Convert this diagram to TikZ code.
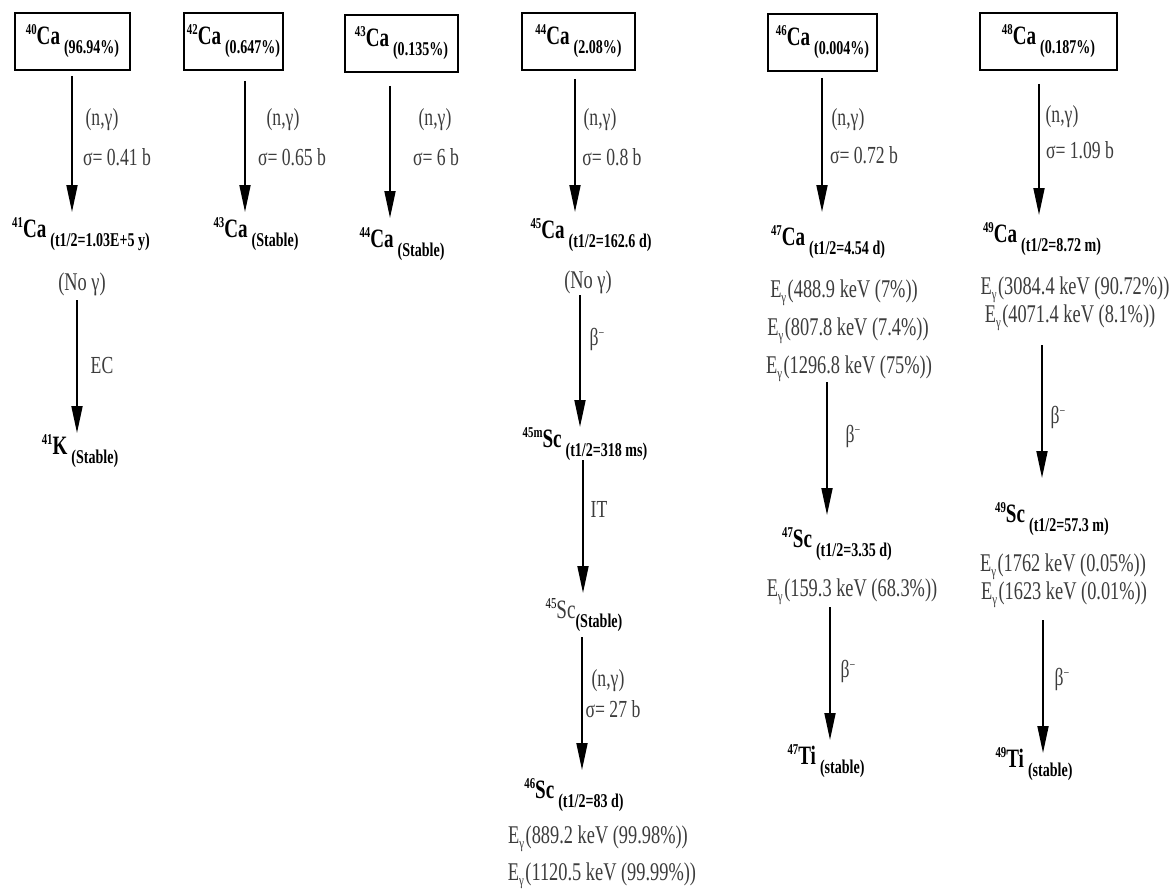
\documentclass[tikz,border=0pt]{standalone}
\usepackage{fontspec}
\setmainfont[FakeStretch=0.72]{Liberation Serif}
\usetikzlibrary{arrows.meta,calc}
\definecolor{tg}{HTML}{3C3C3C}
\newcommand{\nuc}[3]{\raisebox{10pt}{\fontsize{15}{15}\selectfont\bfseries #1}{\fontsize{26.5}{26.5}\selectfont\bfseries #2}\hspace{4pt}\raisebox{-9pt}{\fontsize{19.5}{19.5}\selectfont\bfseries #3}}
\newcommand{\egam}[1]{E\raisebox{-5pt}{\fontsize{15}{15}\selectfont γ}\hspace{1.5pt}(#1)}
\newcommand{\bminus}{β\raisebox{8pt}{\fontsize{14}{14}\selectfont −}}
\tikzset{
  lbl/.style={anchor=base, inner sep=0pt, text=tg, font=\fontsize{24.5}{24.5}\selectfont},
  egl/.style={anchor=base, inner sep=0pt, text=tg, font=\fontsize{25.5}{25.5}\selectfont},
  iso/.style={anchor=base, inner sep=0pt, text=black},
  isobox/.style={draw, line width=1.8pt, minimum height=57pt, inner sep=0pt, anchor=center, fill=white},
  arr/.style={line width=1.8pt, -{Triangle[length=27pt,width=11pt]}}
}
\begin{document}
\begin{tikzpicture}[x=1pt,y=-1pt]
\useasboundingbox[fill=white] (0,0) rectangle (1176,889);
% column 1
\node[isobox, minimum width=115pt] (b40) at (72.5,41.5) {\nuc{40}{Ca}{(96.94\%)}};
\node[lbl] (ng1) at (102,125) {(n,γ)};
\node[lbl] (s1) at (117,165) {σ= 0.41 b};
\node[iso] (ca41) at (81,237) {\nuc{41}{Ca}{(t1/2=1.03E+5 y)}};
\node[egl] (no1) at (82,290) {(No γ)};
\node[lbl] (ec) at (102,373) {EC};
\node[iso] (k41) at (80,454) {\nuc{41}{K}{(Stable)}};
% column 2
\node[isobox, minimum width=99pt] (b42) at (233.5,41.5) {\nuc{42}{Ca}{(0.647\%)}};
\node[lbl] (ng2) at (283,125) {(n,γ)};
\node[lbl] (s2) at (292,165) {σ= 0.65 b};
\node[iso] (ca43) at (256,237) {\nuc{43}{Ca}{(Stable)}};
% column 3
\node[isobox, minimum width=113pt] (b43) at (401.5,43.5) {\nuc{43}{Ca}{(0.135\%)}};
\node[lbl] (ng3) at (435,125) {(n,γ)};
\node[lbl] (s3) at (436,165) {σ= 6 b};
\node[iso] (ca44) at (402,247) {\nuc{44}{Ca}{(Stable)}};
% column 4
\node[isobox, minimum width=113pt] (b44) at (578.5,41.5) {\nuc{44}{Ca}{(2.08\%)}};
\node[lbl] (ng4) at (600,125) {(n,γ)};
\node[lbl] (s4) at (612,165) {σ= 0.8 b};
\node[iso] (ca45) at (591,238) {\nuc{45}{Ca}{(t1/2=162.6 d)}};
\node[egl] (no2) at (588,288) {(No γ)};
\node[lbl] (bt4) at (597,345) {\bminus};
\node[iso] (sc45m) at (585,447) {\nuc{45m}{Sc}{(t1/2=318 ms)}};
\node[lbl] (it) at (599,517) {IT};
\node[iso] (sc45) at (584,618) {\raisebox{10pt}{\fontsize{15}{15}\selectfont 45}{\fontsize{26.5}{26.5}\selectfont\color{tg}Sc}\raisebox{-9pt}{\fontsize{19.5}{19.5}\selectfont\bfseries (Stable)}};
\node[lbl] (ng5) at (608,686) {(n,γ)};
\node[lbl] (s5) at (613,717) {σ= 27 b};
\node[iso] (sc46) at (574,798) {\nuc{46}{Sc}{(t1/2=83 d)}};
\node[egl] (e1) at (598,843) {\egam{889.2 keV (99.98\%)}};
\node[egl] (e2) at (602,880) {\egam{1120.5 keV (99.99\%)}};
% column 5
\node[isobox, minimum width=109pt] (b46) at (822.5,42.5) {\nuc{46}{Ca}{(0.004\%)}};
\node[lbl] (ng6) at (848,125) {(n,γ)};
\node[lbl] (s6) at (864,163) {σ= 0.72 b};
\node[iso] (ca47) at (828,245) {\nuc{47}{Ca}{(t1/2=4.54 d)}};
\node[egl] (e3) at (844,297) {\egam{488.9 keV (7\%)}};
\node[egl] (e4) at (848,335) {\egam{807.8 keV (7.4\%)}};
\node[egl] (e5) at (849,373) {\egam{1296.8 keV (75\%)}};
\node[lbl] (bt5) at (853,442) {\bminus};
\node[iso] (sc47) at (837,547) {\nuc{47}{Sc}{(t1/2=3.35 d)}};
\node[egl] (e6) at (852,596) {\egam{159.3 keV (68.3\%)}};
\node[lbl] (bt6) at (848,677) {\bminus};
\node[iso] (ti47) at (826,764) {\nuc{47}{Ti}{(stable)}};
% column 6
\node[isobox, minimum width=137pt] (b48) at (1048.5,41.5) {\nuc{48}{Ca}{(0.187\%)}};
\node[lbl] (ng7) at (1062,122) {(n,γ)};
\node[lbl] (s7) at (1080,158) {σ= 1.09 b};
\node[iso] (ca49) at (1042,242) {\nuc{49}{Ca}{(t1/2=8.72 m)}};
\node[egl] (e7) at (1075,294) {\egam{3084.4 keV (90.72\%)}};
\node[egl] (e8) at (1070,322) {\egam{4071.4 keV (8.1\%)}};
\node[lbl] (bt7) at (1058,423) {\bminus};
\node[iso] (sc49) at (1052,522) {\nuc{49}{Sc}{(t1/2=57.3 m)}};
\node[egl] (e9) at (1063,571) {\egam{1762 keV (0.05\%)}};
\node[egl] (e10) at (1064,599) {\egam{1623 keV (0.01\%)}};
\node[lbl] (bt8) at (1062,685) {\bminus};
\node[iso] (ti49) at (1034,767) {\nuc{49}{Ti}{(stable)}};
% connectors
\draw[arr] ($(b40.south)+(-0.5,5)$) -- ($(b40.south |- ca41.base)+(-0.5,-25)$);
\draw[arr] ($(b42.south)+(11.5,10)$) -- ($(b42.south |- ca43.base)+(11.5,-25)$);
\draw[arr] ($(b43.south)+(-11.5,13)$) -- ($(b43.south |- ca44.base)+(-11.5,-29)$);
\draw[arr] ($(b44.south)+(-3.5,8)$) -- ($(b44.south |- ca45.base)+(-3.5,-26)$);
\draw[arr] ($(b46.south)+(-0.5,6)$) -- ($(b46.south |- ca47.base)+(-0.5,-33)$);
\draw[arr] ($(b48.south)+(-9.5,13)$) -- ($(b48.south |- ca49.base)+(-9.5,-27)$);
\draw[arr] ($(no1.base)+(-5,10)$) -- ($(no1.base |- k41.base)+(-5,-21)$);
\draw[arr] ($(no2.base)+(-8,7)$) -- ($(no2.base |- sc45m.base)+(-8,-20)$);
\draw[arr] ($(sc45m.base)+(-2,13)$) -- ($(sc45m.base |- sc45.base)+(-2,-25)$);
\draw[arr] ($(sc45.base)+(-2,19)$) -- ($(sc45.base |- sc46.base)+(-2,-28)$);
\draw[arr] ($(e5.base)+(-22,9)$) -- ($(e5.base |- sc47.base)+(-22,-32)$);
\draw[arr] ($(e6.base)+(-22,11)$) -- ($(e6.base |- ti47.base)+(-22,-24)$);
\draw[arr] ($(e8.base)+(-28,23)$) -- ($(e8.base |- sc49.base)+(-28,-44)$);
\draw[arr] ($(e10.base)+(-21,21)$) -- ($(e10.base |- ti49.base)+(-21,-14)$);
\end{tikzpicture}
\end{document}
